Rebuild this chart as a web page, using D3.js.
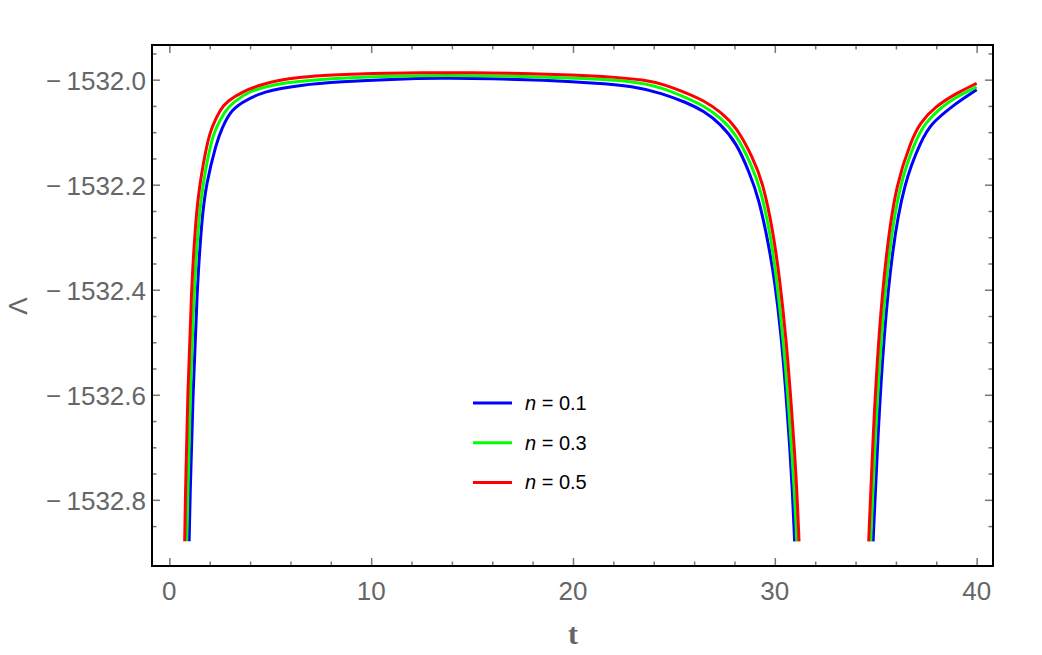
<!DOCTYPE html>
<html>
<head>
<meta charset="utf-8">
<script src="https://cdn.jsdelivr.net/npm/d3@7"></script>
<style>
  body { margin: 0; background: #fff; }
  svg { font-family: "Liberation Sans", Arial, sans-serif; }
  .tick-label { fill: #666; font-size: 26px; }
</style>
</head>
<body>
<div class="container"></div>
<script>
// [t, Lambda], two branches per curve (the curve leaves the plot between them)
const blueLeft = [
  [0.98, -1532.879], [1.02, -1532.801], [1.17, -1532.597], [1.37, -1532.401],
  [1.60, -1532.268], [1.82, -1532.199], [2.33, -1532.120], [2.61, -1532.092],
  [3.0, -1532.062], [3.5, -1532.045], [4.65, -1532.022], [6.5, -1532.010],
  [8.5, -1532.004], [11.0, -1531.999], [13.5, -1531.997], [16.0, -1531.998],
  [18.5, -1532.001], [21.0, -1532.006], [23.0, -1532.012], [24.4, -1532.026],
  [25.6, -1532.043], [26.5, -1532.060], [27.3, -1532.084], [28.1, -1532.120],
  [28.75, -1532.178], [29.2, -1532.225], [29.7, -1532.315], [30.0, -1532.385],
  [30.3, -1532.480], [30.55, -1532.595], [30.75, -1532.705], [30.88, -1532.790],
  [30.98, -1532.879]
];
const blueRight = [
  [34.87, -1532.879], [35.11, -1532.673], [35.41, -1532.483], [35.81, -1532.325],
  [36.39, -1532.197], [37.26, -1532.115], [37.76, -1532.083], [38.75, -1532.052],
  [39.3, -1532.037], [40.0, -1532.019]
];
const greenLeft = [
  [0.86, -1532.879], [0.91, -1532.801], [1.04, -1532.597], [1.22, -1532.401],
  [1.45, -1532.268], [1.66, -1532.199], [2.05, -1532.120], [2.33, -1532.090],
  [2.75, -1532.060], [3.15, -1532.043], [4.0, -1532.021], [5.0, -1532.011],
  [6.2, -1532.004], [8.0, -1531.998], [10.0, -1531.994], [12.5, -1531.992],
  [15.0, -1531.992], [17.5, -1531.994], [20.0, -1531.997], [23.0, -1532.002],
  [24.4, -1532.015], [25.6, -1532.034], [26.5, -1532.050], [27.3, -1532.072],
  [28.1, -1532.104], [28.85, -1532.163], [29.3, -1532.208], [29.8, -1532.298],
  [30.12, -1532.390], [30.43, -1532.500], [30.68, -1532.620], [30.88, -1532.730],
  [30.99, -1532.800], [31.09, -1532.879]
];
const greenRight = [
  [34.75, -1532.879], [34.98, -1532.673], [35.28, -1532.483], [35.66, -1532.325],
  [36.19, -1532.197], [36.98, -1532.115], [37.43, -1532.083], [38.25, -1532.052],
  [38.99, -1532.033], [40.0, -1532.014]
];
const redLeft = [
  [0.76, -1532.879], [0.79, -1532.801], [0.91, -1532.597], [1.09, -1532.401],
  [1.30, -1532.268], [1.50, -1532.199], [1.87, -1532.120], [2.11, -1532.090],
  [2.50, -1532.058], [2.86, -1532.041], [3.66, -1532.022], [4.5, -1532.010],
  [5.3, -1532.002], [6.5, -1531.995], [8.0, -1531.991], [10.0, -1531.988],
  [12.5, -1531.9865], [15.0, -1531.9865], [17.5, -1531.988], [20.0, -1531.991],
  [22.0, -1531.995], [23.5, -1532.000], [24.6, -1532.010], [25.6, -1532.025],
  [26.5, -1532.040], [27.3, -1532.061], [28.1, -1532.090], [28.9, -1532.148],
  [29.4, -1532.195], [29.9, -1532.285], [30.25, -1532.382], [30.55, -1532.490],
  [30.8, -1532.610], [31.0, -1532.720], [31.1, -1532.790], [31.2, -1532.879]
];
const redRight = [
  [34.65, -1532.879], [34.87, -1532.673], [35.15, -1532.483], [35.53, -1532.325],
  [36.02, -1532.197], [36.77, -1532.115], [37.18, -1532.083], [37.92, -1532.052],
  [38.99, -1532.026], [40.0, -1532.007]
];

const seriesNames = ["n = 0.1", "n = 0.3", "n = 0.5"];
const seriesColors = ["#0000ff", "#00ff00", "#ff0000"];
const seriesBranches = [[blueLeft, blueRight], [greenLeft, greenRight], [redLeft, redRight]];

const xMajor = [0, 10, 20, 30, 40];
const xMinor = d3.range(0, 41, 2).filter((d) => d % 10 !== 0);
const yMajor = [-1532.0, -1532.2, -1532.4, -1532.6, -1532.8];
const yMinor = d3.range(0, 19).map((i) => -1531.95 - i * 0.05)
  .filter((d) => !yMajor.some((m) => Math.abs(m - d) < 1e-6));

const width = 1042;
const height = 655;
const margin = { left: 152, right: 49, top: 45, bottom: 89 };
const plotW = width - margin.left - margin.right;
const plotH = height - margin.top - margin.bottom;

const svg = d3.select(".container").append("svg")
  .attr("width", width)
  .attr("height", height);

const x = d3.scaleLinear().domain([-0.86, 40.81]).range([0, plotW]);
const y = d3.scaleLinear().domain([-1532.926, -1531.934]).range([plotH, 0]);

const g = svg.append("g").attr("transform", `translate(${margin.left},${margin.top})`);

g.append("clipPath").attr("id", "clip")
  .append("rect").attr("width", plotW).attr("height", plotH);

const line = d3.line()
  .x((d) => x(d[0]))
  .y((d) => y(d[1]))
  .curve(d3.curveBasis);

seriesBranches.forEach((branches, i) => {
  branches.forEach((branch) => {
    g.append("path")
      .attr("clip-path", "url(#clip)")
      .attr("d", line(branch))
      .attr("fill", "none")
      .attr("stroke", seriesColors[i])
      .attr("stroke-width", 3);
  });
});

// ticks on all four sides, pointing inward
function tickAxis(axis, transform, values, size) {
  const a = g.append("g")
    .attr("transform", transform)
    .call(axis.tickValues(values).tickSize(size).tickFormat(""));
  a.select(".domain").remove();
  a.selectAll(".tick line").attr("stroke", "#777").attr("stroke-width", 1.5);
}
tickAxis(d3.axisBottom(x), `translate(0,${plotH})`, xMajor, -8);
tickAxis(d3.axisBottom(x), `translate(0,${plotH})`, xMinor, -4.5);
tickAxis(d3.axisTop(x), "translate(0,0)", xMajor, -8);
tickAxis(d3.axisTop(x), "translate(0,0)", xMinor, -4.5);
tickAxis(d3.axisLeft(y), "translate(0,0)", yMajor, -8);
tickAxis(d3.axisLeft(y), "translate(0,0)", yMinor, -4.5);
tickAxis(d3.axisRight(y), `translate(${plotW},0)`, yMajor, -8);
tickAxis(d3.axisRight(y), `translate(${plotW},0)`, yMinor, -4.5);

g.append("rect")
  .attr("width", plotW)
  .attr("height", plotH)
  .attr("fill", "none")
  .attr("stroke", "#000")
  .attr("stroke-width", 2);

g.selectAll(".xlab").data(xMajor).enter().append("text")
  .attr("class", "tick-label")
  .attr("x", (d) => x(d))
  .attr("y", plotH + 34)
  .attr("text-anchor", "middle")
  .text((d) => d);

g.selectAll(".ylab").data(yMajor).enter().append("text")
  .attr("class", "tick-label")
  .attr("x", -6)
  .attr("y", (d) => y(d) + 10)
  .attr("text-anchor", "end")
  .text((d) => "\u2212\u2009" + Math.abs(d).toFixed(1));

svg.append("text")
  .attr("x", 573)
  .attr("y", 644)
  .attr("text-anchor", "middle")
  .attr("fill", "#666")
  .style("font-family", "'Liberation Serif', 'Times New Roman', serif")
  .style("font-weight", "bold")
  .style("font-size", "30px")
  .text("t");

svg.append("text")
  .attr("transform", "translate(27,306) rotate(-90)")
  .attr("text-anchor", "middle")
  .attr("fill", "#666")
  .style("font-size", "26px")
  .text("Λ");

// legend
const legend = svg.append("g").attr("transform", "translate(473,403)");
seriesNames.forEach((name, i) => {
  const row = legend.append("g").attr("transform", `translate(0,${i * 39.7})`);
  row.append("line")
    .attr("x1", 0).attr("x2", 39)
    .attr("stroke", seriesColors[i])
    .attr("stroke-width", 3);
  const txt = row.append("text")
    .attr("x", 52)
    .attr("y", 7)
    .attr("fill", "#000")
    .style("font-size", "20px");
  txt.append("tspan").style("font-style", "italic").text("n");
  txt.append("tspan").text(name.slice(1));
});
</script>
</body>
</html>
